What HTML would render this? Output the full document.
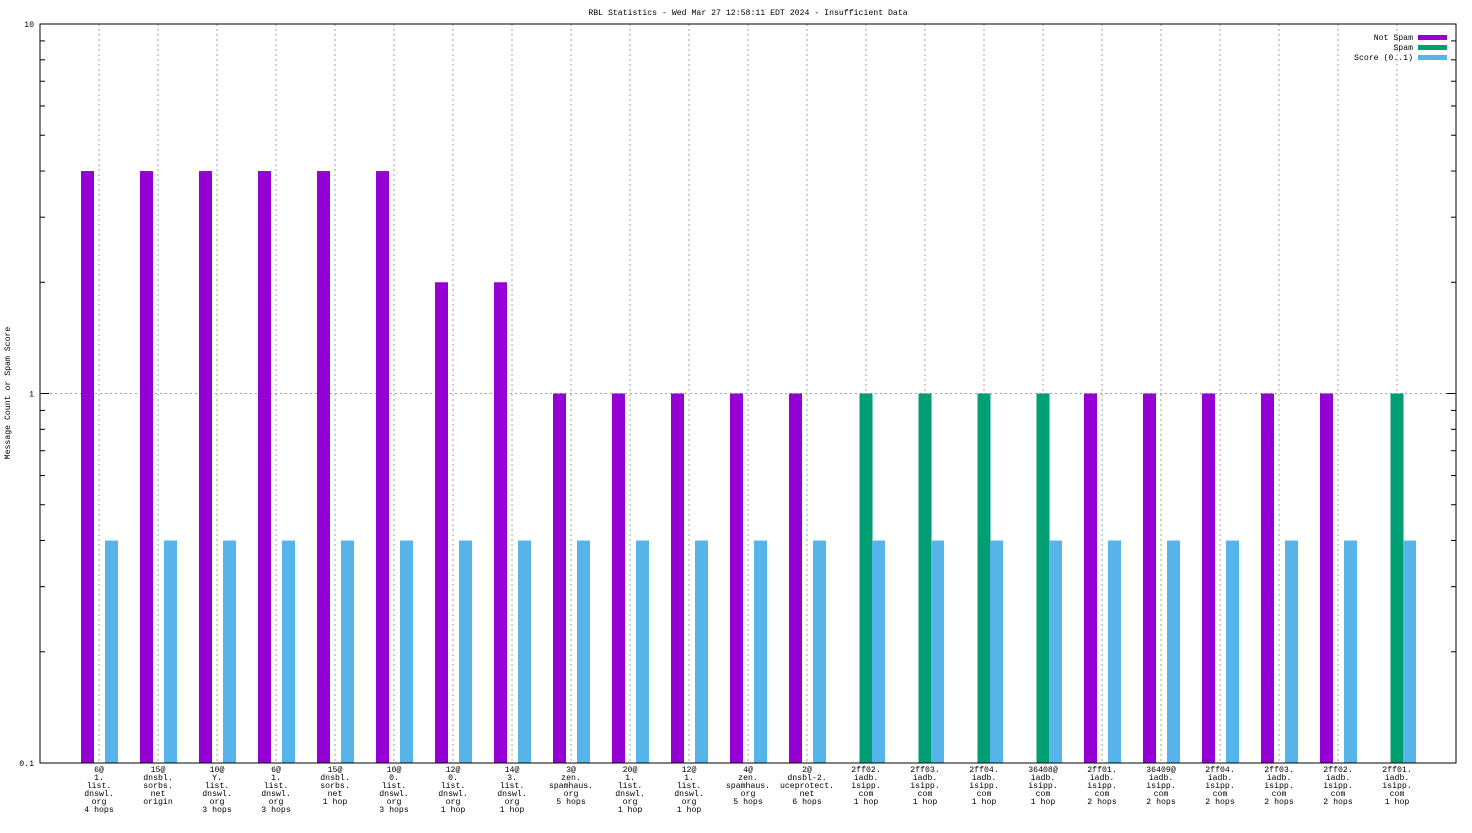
<!DOCTYPE html>
<html><head><meta charset="utf-8"><style>
body{margin:0;background:#fff}
svg text{font-family:"Liberation Mono","DejaVu Sans Mono",monospace;font-size:8.2px;fill:#000}
</style></head><body>
<svg id="c" width="1472" height="828" xmlns="http://www.w3.org/2000/svg">
<text x="748" y="15" text-anchor="middle">RBL Statistics - Wed Mar 27 12:58:11 EDT 2024 - Insufficient Data</text>
<text transform="translate(10,393) rotate(-90)" text-anchor="middle">Message Count or Spam Score</text>
<g id="grid"></g><g id="bars"></g><g id="axes"></g><g id="xl"></g>
<g>
<text x="1413" y="40" text-anchor="end">Not Spam</text>
<rect x="1418" y="35" width="29" height="5" fill="#9400d3"/>
<text x="1413" y="50" text-anchor="end">Spam</text>
<rect x="1418" y="45" width="29" height="5" fill="#009e73"/>
<text x="1413" y="60" text-anchor="end">Score (0..1)</text>
<rect x="1418" y="55" width="29" height="5" fill="#56b4e9"/>
</g>
</svg>
<script>
const categories=[
["6@","1.","list.","dnswl.","org","4 hops"],["15@","dnsbl.","sorbs.","net","origin"],["10@","Y.","list.","dnswl.","org","3 hops"],
["6@","1.","list.","dnswl.","org","3 hops"],["15@","dnsbl.","sorbs.","net","1 hop"],["10@","0.","list.","dnswl.","org","3 hops"],
["12@","0.","list.","dnswl.","org","1 hop"],["14@","3.","list.","dnswl.","org","1 hop"],["3@","zen.","spamhaus.","org","5 hops"],
["20@","1.","list.","dnswl.","org","1 hop"],["12@","1.","list.","dnswl.","org","1 hop"],["4@","zen.","spamhaus.","org","5 hops"],
["2@","dnsbl-2.","uceprotect.","net","6 hops"],["2ff02.","iadb.","isipp.","com","1 hop"],["2ff03.","iadb.","isipp.","com","1 hop"],
["2ff04.","iadb.","isipp.","com","1 hop"],["36408@","iadb.","isipp.","com","1 hop"],["2ff01.","iadb.","isipp.","com","2 hops"],
["36409@","iadb.","isipp.","com","2 hops"],["2ff04.","iadb.","isipp.","com","2 hops"],["2ff03.","iadb.","isipp.","com","2 hops"],
["2ff02.","iadb.","isipp.","com","2 hops"],["2ff01.","iadb.","isipp.","com","1 hop"]];
const notSpam=[4,4,4,4,4,4,2,2,1,1,1,1,1,0,0,0,0,1,1,1,1,1,0];
const spam=[0,0,0,0,0,0,0,0,0,0,0,0,0,1,1,1,1,0,0,0,0,0,1];
const score=[0.4,0.4,0.4,0.4,0.4,0.4,0.4,0.4,0.4,0.4,0.4,0.4,0.4,0.4,0.4,0.4,0.4,0.4,0.4,0.4,0.4,0.4,0.4];
const yTicks=[0.1,1,10];
const yTickLabels=["0.1","1","10"];
const NS="http://www.w3.org/2000/svg";
const L=40,R=1456,T=24,B=763;
const y=v=>B-(Math.log10(v)+1)/2*(B-T);
const x=i=>99+i*59;
function mk(t,a,p){const e=document.createElementNS(NS,t);for(const k in a)e.setAttribute(k,a[k]);document.getElementById(p).appendChild(e);return e;}
categories.forEach((c,i)=>{const g=mk('line',{x1:x(i),x2:x(i),y1:T,y2:B,stroke:'#a0a0a0','stroke-dasharray':'2,3'},'grid');

});
const gy=mk('line',{x1:L,x2:R,y1:y(1),y2:y(1),stroke:'#a0a0a0','stroke-dasharray':'2,3'},'grid');


const W=13;
function bar(i,v,off,col,n){if(!v)return;const r=mk('rect',{x:x(i)+off-W/2,y:y(v),width:W,height:B-y(v),fill:col},'bars');

}
categories.forEach((c,i)=>{bar(i,notSpam[i],-11.5,'#9400d3','not-spam');bar(i,spam[i],0,'#009e73','spam');bar(i,score[i],12.5,'#56b4e9','score');});
const fr=mk('rect',{x:L,y:T,width:R-L,height:B-T,fill:'none',stroke:'#000'},'axes');


yTicks.forEach((v,k)=>{mk('line',{x1:L,x2:L+9,y1:y(v),y2:y(v),stroke:'#000'},'axes');mk('line',{x1:R,x2:R-9,y1:y(v),y2:y(v),stroke:'#000'},'axes');
const t=mk('text',{x:L-6,y:y(v)+3,'text-anchor':'end'},'axes');t.textContent=yTickLabels[k];


if(k<yTicks.length-1)for(let m=2;m<10;m++){const yy=y(v*m);mk('line',{x1:L,x2:L+5,y1:yy,y2:yy,stroke:'#000'},'axes');mk('line',{x1:R,x2:R-5,y1:yy,y2:yy,stroke:'#000'},'axes');}});
categories.forEach((c,i)=>{const t=mk('text',{'text-anchor':'middle'},'xl');


c.forEach((s,j)=>{const ts=document.createElementNS(NS,'tspan');ts.setAttribute('x',x(i));ts.setAttribute('y',772+j*8);ts.textContent=s;t.appendChild(ts);});});
</script>
</body></html>
